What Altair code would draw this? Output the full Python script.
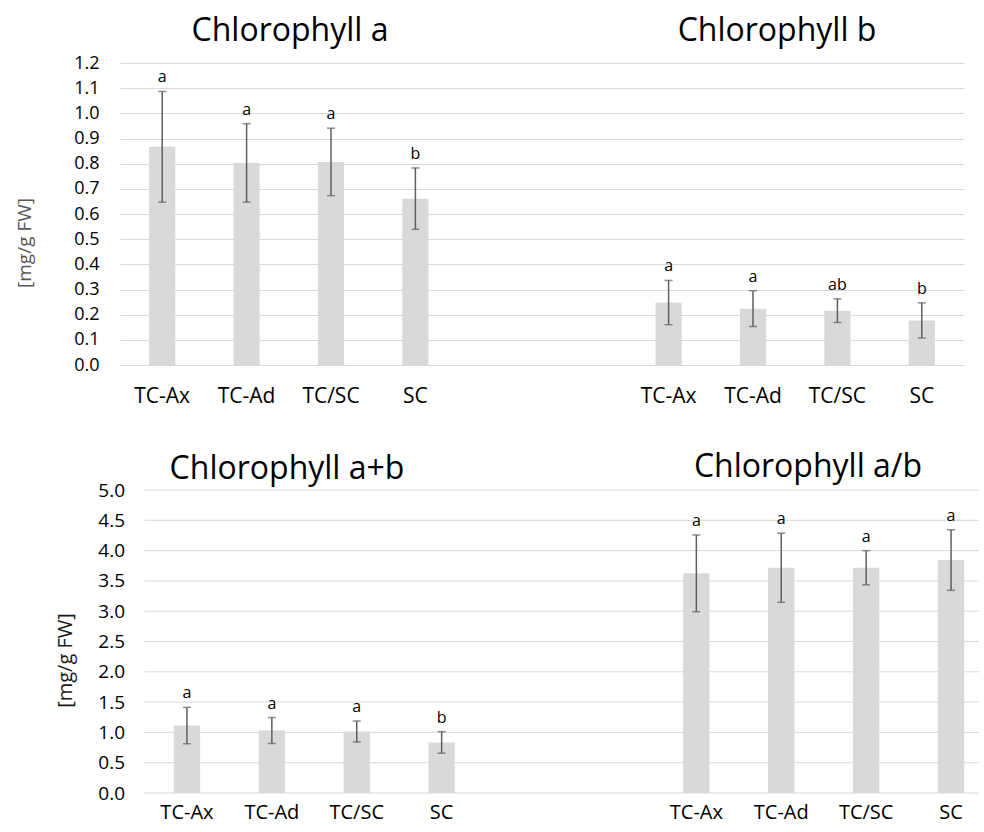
import altair as alt
import pandas as pd

# Treatment groups, shown under each block of bars
groups = ["TC-Ax", "TC-Ad", "TC/SC", "SC"]

# Chlorophyll a  [mg/g FW]
chl_a = [0.867, 0.803, 0.807, 0.661]
chl_a_sd = [0.220, 0.156, 0.134, 0.122]
chl_a_sig = ["a", "a", "a", "b"]

# Chlorophyll b  [mg/g FW]
chl_b = [0.248, 0.224, 0.216, 0.177]
chl_b_sd = [0.088, 0.071, 0.047, 0.070]
chl_b_sig = ["a", "a", "ab", "b"]

# Chlorophyll a+b  [mg/g FW]
chl_sum = [1.113, 1.031, 1.015, 0.834]
chl_sum_sd = [0.300, 0.214, 0.173, 0.178]
chl_sum_sig = ["a", "a", "a", "b"]

# Chlorophyll a/b ratio
chl_ratio = [3.625, 3.717, 3.717, 3.844]
chl_ratio_sd = [0.633, 0.570, 0.282, 0.500]
chl_ratio_sig = ["a", "a", "a", "a"]

# y-axis tick labels
top_ticks = [0.0, 0.1, 0.2, 0.3, 0.4, 0.5, 0.6, 0.7, 0.8, 0.9, 1.0, 1.1, 1.2]
bottom_ticks = [0.0, 0.5, 1.0, 1.5, 2.0, 2.5, 3.0, 3.5, 4.0, 4.5, 5.0]

FONT = "Open Sans"
BAR = "#d9d9d9"
GRID = "#d9d9d9"
ERR = "#5f5f5f"

# Ten category slots: left block, two empty spacer slots, right block
slots = [f"L|{g}" for g in groups] + ["gap1", "gap2"] + [f"R|{g}" for g in groups]
LABEL_EXPR = "indexof(datum.value, '|') >= 0 ? split(datum.value, '|')[1] : ''"


def table(side, means, sds, sigs):
    return pd.DataFrame({
        "slot": [f"{side}|{g}" for g in groups],
        "mean": means,
        "lower": [m - s for m, s in zip(means, sds)],
        "upper": [m + s for m, s in zip(means, sds)],
        "sig": sigs,
    })


def panel(data, ticks, y_axis, width, height, x_range, x_label_size, x_label_pad,
          titles, rule_grid):
    scale_kw = dict(domain=slots, paddingInner=0.69, paddingOuter=0.345)
    if x_range is not None:
        scale_kw["range"] = x_range
    x = alt.X(
        "slot:N",
        sort=slots,
        scale=alt.Scale(**scale_kw),
        axis=alt.Axis(
            title=None, labelExpr=LABEL_EXPR, domain=False, ticks=False, tickSize=0,
            labelAngle=0, labelFont=FONT, labelFontSize=x_label_size,
            labelColor="#000000", labelPadding=x_label_pad, grid=False,
        ),
    )
    y_scale = alt.Scale(domain=[ticks[0], ticks[-1]], nice=False, zero=True)

    base = alt.Chart(data)
    layers = []
    if rule_grid is not None:
        x0, x1 = rule_grid
        layers.append(
            alt.Chart(pd.DataFrame({"v": ticks}))
            .mark_rule(color=GRID, strokeWidth=1)
            .encode(y=alt.Y("v:Q", scale=y_scale, axis=y_axis),
                    x=alt.value(x0), x2=alt.value(x1))
        )
    layers.append(
        base.mark_bar(color=BAR).encode(
            x=x, y=alt.Y("mean:Q", scale=y_scale, axis=y_axis)
        )
    )
    layers.append(
        base.mark_rule(color=ERR, strokeWidth=1.5).encode(
            x=x, y=alt.Y("lower:Q", scale=y_scale, axis=y_axis), y2="upper:Q"
        )
    )
    for end in ["lower", "upper"]:
        layers.append(
            base.mark_tick(color=ERR, thickness=1.5, size=8).encode(
                x=x, y=alt.Y(f"{end}:Q", scale=y_scale, axis=y_axis)
            )
        )
    layers.append(
        base.mark_text(font=FONT, fontSize=16, dy=-9, baseline="alphabetic",
                       color="#000000").encode(
            x=x, y=alt.Y("upper:Q", scale=y_scale, axis=y_axis), text="sig:N"
        )
    )
    for text, tx, ty, size in titles:
        layers.append(
            alt.Chart(pd.DataFrame({"t": [text]}))
            .mark_text(font=FONT, fontSize=size, color="#000000",
                       align="center", baseline="alphabetic")
            .encode(text="t:N", x=alt.value(tx), y=alt.value(ty))
        )
    return alt.layer(*layers).properties(width=width, height=height)


top_data = pd.concat([
    table("L", chl_a, chl_a_sd, chl_a_sig),
    table("R", chl_b, chl_b_sd, chl_b_sig),
])
bottom_data = pd.concat([
    table("L", chl_sum, chl_sum_sd, chl_sum_sig),
    table("R", chl_ratio, chl_ratio_sd, chl_ratio_sig),
])

top_axis = alt.Axis(
    values=top_ticks, format=".1f", title="[mg/g FW]",
    grid=True, gridColor=GRID, gridWidth=1, domain=False, ticks=False, tickSize=0,
    labelFont=FONT, labelFontSize=18, labelColor="#000000", labelPadding=21,
    titleFont=FONT, titleFontSize=19, titleFontWeight="normal", titleColor="#595959",
    titleAngle=270, titleAlign="center", titleBaseline="bottom",
    titleX=-86, titleY=179.5,
)
bottom_axis = alt.Axis(
    values=bottom_ticks, format=".1f", title="[mg/g FW]",
    grid=False, domain=False, ticks=False, tickSize=0, offset=-24.5,
    labelFont=FONT, labelFontSize=19, labelColor="#000000", labelPadding=20,
    titleFont=FONT, titleFontSize=20, titleFontWeight="normal", titleColor="#1a1a1a",
    titleAngle=270, titleAlign="center", titleBaseline="bottom",
    titleX=-69.5, titleY=170,
)

top = panel(
    top_data, top_ticks, top_axis, width=844, height=302, x_range=None,
    x_label_size=21, x_label_pad=20,
    titles=[("Chlorophyll a", 170, -22.5, 32), ("Chlorophyll b", 657, -22.5, 32)],
    rule_grid=None,
)
bottom = panel(
    bottom_data, bottom_ticks, bottom_axis, width=859, height=303,
    x_range=[24.5, 873.5], x_label_size=20, x_label_pad=9,
    titles=[("Chlorophyll a+b", 167, -10.7, 32), ("Chlorophyll a/b", 688, -12.7, 32)],
    rule_grid=(24.5, 859),
)

chart = (
    alt.vconcat(top, bottom, spacing=45)
    .properties(padding={"left": 15, "top": 14, "right": 0, "bottom": 0},
                background="white")
    .configure_view(stroke=None)
)

chart.save("out.html", embed_options={"renderer": "svg", "actions": False})
